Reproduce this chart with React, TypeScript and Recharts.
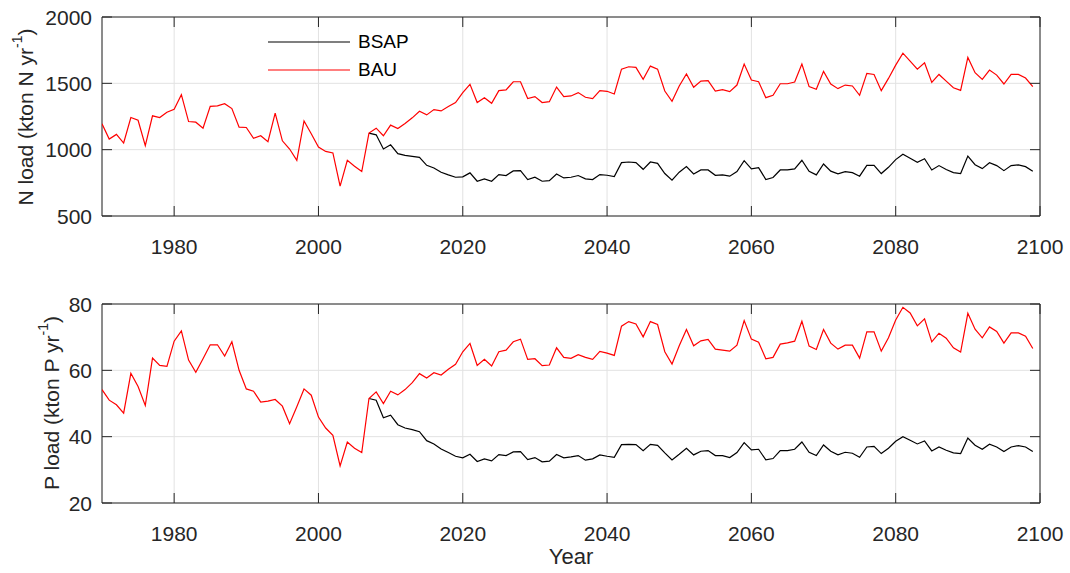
import React from 'react';
import { LineChart, Line, XAxis, YAxis, CartesianGrid, ReferenceArea } from 'recharts';

const years: number[] = Array.from({ length: 130 }, (_, i) => 1970 + i);

const nBAU: number[] = [
  1195, 1080, 1115, 1050, 1242, 1222, 1030, 1255, 1242, 1282,
  1305, 1415, 1212, 1207, 1162, 1327, 1330, 1347, 1310, 1170,
  1167, 1085, 1105, 1060, 1275, 1067, 1005, 920, 1217, 1120,
  1020, 987, 975, 725, 920, 875, 835, 1125, 1162, 1105,
  1185, 1160, 1197, 1240, 1290, 1262, 1302, 1292, 1325, 1355,
  1430, 1492, 1355, 1392, 1350, 1445, 1450, 1512, 1512, 1385,
  1400, 1355, 1362, 1472, 1400, 1405, 1430, 1395, 1385, 1445,
  1440, 1420, 1607, 1625, 1620, 1530, 1630, 1607, 1442, 1365,
  1480, 1570, 1470, 1517, 1520, 1442, 1452, 1437, 1487, 1645,
  1525, 1512, 1392, 1410, 1497, 1497, 1510, 1645, 1475, 1455,
  1590, 1495, 1460, 1487, 1480, 1410, 1575, 1567, 1445, 1537,
  1637, 1727, 1667, 1607, 1655, 1507, 1567, 1517, 1467, 1447,
  1695, 1580, 1530, 1600, 1562, 1495, 1567, 1567, 1540, 1475,
];

const nBSAP: (number | null)[] = [
  null, null, null, null, null, null, null, null, null, null,
  null, null, null, null, null, null, null, null, null, null,
  null, null, null, null, null, null, null, null, null, null,
  null, null, null, null, null, null, null, 1125, 1112, 1005,
  1037, 970, 957, 950, 942, 882, 862, 830, 810, 792,
  795, 825, 762, 780, 762, 812, 805, 840, 842, 775,
  792, 762, 767, 817, 787, 792, 805, 780, 775, 812,
  807, 797, 902, 907, 902, 852, 907, 897, 820, 770,
  830, 872, 817, 847, 847, 807, 810, 800, 835, 917,
  855, 865, 775, 790, 847, 847, 855, 920, 837, 810,
  892, 838, 818, 835, 827, 800, 882, 882, 820, 867,
  925, 965, 935, 905, 932, 847, 880, 850, 827, 820,
  952, 887, 857, 902, 880, 842, 880, 885, 872, 837,
];

const pBAU: number[] = [
  54.2, 51.0, 49.6, 47.1, 59.1, 55.1, 49.4, 63.7, 61.5, 61.2,
  68.8, 71.9, 63.1, 59.4, 63.5, 67.7, 67.7, 64.3, 68.6, 60.0,
  54.4, 53.7, 50.4, 50.7, 51.2, 49.2, 43.9, 49.0, 54.4, 52.5,
  45.9, 42.6, 40.4, 31.2, 38.4, 36.5, 35.2, 51.5, 53.5, 50.0,
  53.7, 52.6, 54.2, 56.3, 59.0, 57.7, 59.3, 58.6, 60.3, 61.8,
  65.6, 68.1, 61.5, 63.3, 61.3, 65.6, 66.1, 68.6, 69.4, 63.3,
  63.5, 61.4, 61.6, 66.8, 63.9, 63.6, 64.7, 63.9, 63.3, 65.7,
  65.2, 64.5, 73.3, 74.7, 74.0, 70.1, 74.7, 73.8, 65.6, 61.9,
  67.4, 72.3, 67.4, 68.9, 69.3, 66.4, 66.1, 65.8, 67.6, 75.0,
  69.4, 68.5, 63.5, 63.9, 67.9, 68.3, 68.8, 74.8, 67.3, 66.3,
  72.3, 68.2, 66.4, 67.6, 67.6, 63.7, 71.6, 71.6, 65.8, 69.8,
  75.2, 79.0, 77.3, 73.4, 75.5, 68.6, 71.2, 69.7, 66.8, 65.5,
  77.2, 72.4, 69.8, 73.1, 71.7, 68.2, 71.3, 71.3, 70.3, 66.6,
];

const pBSAP: (number | null)[] = [
  null, null, null, null, null, null, null, null, null, null,
  null, null, null, null, null, null, null, null, null, null,
  null, null, null, null, null, null, null, null, null, null,
  null, null, null, null, null, null, null, 51.5, 51.0, 45.7,
  46.5, 43.6, 42.6, 42.1, 41.5, 38.8, 37.8, 36.3, 35.2, 34.1,
  33.6, 34.7, 32.5, 33.3, 32.7, 34.6, 34.3, 35.4, 35.5, 33.1,
  33.7, 32.4, 32.6, 34.6, 33.6, 33.9, 34.3, 32.9, 33.3, 34.5,
  34.1, 33.8, 37.6, 37.7, 37.6, 35.8, 37.7, 37.4, 35.1, 33.0,
  34.7, 36.5, 34.5, 35.6, 35.8, 34.3, 34.3, 33.7, 35.2, 38.2,
  36.0, 36.2, 33.0, 33.4, 35.8, 35.8, 36.2, 38.4, 35.3, 34.3,
  37.5, 35.6, 34.5, 35.3, 35.0, 33.8, 36.9, 37.1, 34.9, 36.5,
  38.6, 40.0, 38.9, 37.8, 38.7, 35.7, 36.9, 35.9, 35.1, 34.9,
  39.6, 37.4, 36.2, 37.7, 36.9, 35.5, 36.9, 37.3, 36.9, 35.5,
];

const xTicks: number[] = [1980, 2000, 2020, 2040, 2060, 2080, 2100];
const nTicks: number[] = [500, 1000, 1500, 2000];
const pTicks: number[] = [20, 40, 60, 80];
const seriesNames: string[] = ['BSAP', 'BAU'];
const seriesColors: string[] = ['#000000', '#ff0000'];

const nData = years.map((year, i) => ({ year, BSAP: nBSAP[i], BAU: nBAU[i] }));
const pData = years.map((year, i) => ({ year, BSAP: pBSAP[i], BAU: pBAU[i] }));

const FONT = '"Liberation Sans", Arial, Helvetica, sans-serif';
const AX = '#262626';
const PL = 102;
const PR = 1040;
const TICKLEN = 10;

const XTick = (props: any) => {
  const { x, payload, top, bottom } = props;
  return (
    <g>
      <line x1={x} x2={x} y1={bottom} y2={bottom - TICKLEN} stroke={AX} strokeWidth={1} />
      <line x1={x} x2={x} y1={top} y2={top + TICKLEN} stroke={AX} strokeWidth={1} />
      <text x={x} y={bottom + 30} textAnchor="middle" dominantBaseline="central" fill={AX} fontSize={21} fontFamily={FONT}>
        {payload.value}
      </text>
    </g>
  );
};

const YTick = (props: any) => {
  const { y, payload } = props;
  return (
    <g>
      <line x1={PL} x2={PL + TICKLEN} y1={y} y2={y} stroke={AX} strokeWidth={1} />
      <line x1={PR} x2={PR - TICKLEN} y1={y} y2={y} stroke={AX} strokeWidth={1} />
      <text x={PL - 10} y={y} textAnchor="end" dominantBaseline="central" fill={AX} fontSize={21} fontFamily={FONT}>
        {payload.value}
      </text>
    </g>
  );
};

const YLabel = (props: any) => {
  const { cx, cy, element } = props;
  return (
    <text
      x={cx}
      y={cy}
      transform={`rotate(-90 ${cx} ${cy})`}
      textAnchor="middle"
      dominantBaseline="central"
      fill={AX}
      fontSize={21}
      fontFamily={FONT}
    >
      {element} load (kton {element} yr
      <tspan dy={-8} fontSize={14}>-1</tspan>
      <tspan dy={8}>)</tspan>
    </text>
  );
};

const XLabel = () => (
  <text x={(PL + PR) / 2} y={286} textAnchor="middle" dominantBaseline="central" fill={AX} fontSize={22} fontFamily={FONT}>
    Year
  </text>
);

const LegendBox = () => (
  <div style={{ position: 'absolute', left: 268, top: 28, fontFamily: FONT, fontSize: 19, color: '#000' }}>
    {seriesNames.map((name, i) => (
      <div key={name} style={{ display: 'flex', alignItems: 'center', height: 28 }}>
        <svg width={82} height={4} style={{ display: 'block' }}>
          <line x1={0} x2={82} y1={2} y2={2} stroke={seriesColors[i]} strokeWidth={1.2} />
        </svg>
        <span style={{ marginLeft: 8, lineHeight: '28px' }}>{name}</span>
      </div>
    ))}
  </div>
);

export default function App() {
  return (
    <div style={{ position: 'absolute', left: 0, top: 0, width: 1070, height: 573, background: '#fff' }}>
      <div style={{ position: 'absolute', left: 0, top: 0 }}>
        <LineChart width={1070} height={270} data={nData} margin={{ top: 17, right: 30, bottom: 14, left: 0 }}>
          <CartesianGrid stroke="#e2e2e2" strokeWidth={1} />
          <XAxis
            dataKey="year"
            type="number"
            domain={[1970, 2100]}
            ticks={xTicks}
            allowDataOverflow
            height={40}
            axisLine={false}
            tickLine={false}
            tickSize={0}
            tick={(p: any) => <XTick {...p} top={17} bottom={216} />}
          />
          <YAxis
            type="number"
            domain={[500, 2000]}
            ticks={nTicks}
            allowDataOverflow
            width={102}
            axisLine={false}
            tickLine={false}
            tickSize={0}
            tick={(p: any) => <YTick {...p} />}
            label={<YLabel cx={25} cy={117} element="N" />}
          />
          <ReferenceArea x1={1970} x2={2100} y1={500} y2={2000} fill="none" fillOpacity={0} stroke={AX} strokeWidth={1} ifOverflow="visible" />
          <Line type="linear" dataKey="BSAP" name={seriesNames[0]} stroke={seriesColors[0]} strokeWidth={1.2} dot={false} isAnimationActive={false} connectNulls={false} />
          <Line type="linear" dataKey="BAU" name={seriesNames[1]} stroke={seriesColors[1]} strokeWidth={1.2} dot={false} isAnimationActive={false} />
        </LineChart>
      </div>
      <LegendBox />
      <div style={{ position: 'absolute', left: 0, top: 270 }}>
        <LineChart width={1070} height={303} data={pData} margin={{ top: 34, right: 30, bottom: 30, left: 0 }}>
          <CartesianGrid stroke="#e2e2e2" strokeWidth={1} />
          <XAxis
            dataKey="year"
            type="number"
            domain={[1970, 2100]}
            ticks={xTicks}
            allowDataOverflow
            height={40}
            axisLine={false}
            tickLine={false}
            tickSize={0}
            tick={(p: any) => <XTick {...p} top={34} bottom={233} />}
            label={<XLabel />}
          />
          <YAxis
            type="number"
            domain={[20, 80]}
            ticks={pTicks}
            allowDataOverflow
            width={102}
            axisLine={false}
            tickLine={false}
            tickSize={0}
            tick={(p: any) => <YTick {...p} />}
            label={<YLabel cx={51} cy={133} element="P" />}
          />
          <ReferenceArea x1={1970} x2={2100} y1={20} y2={80} fill="none" fillOpacity={0} stroke={AX} strokeWidth={1} ifOverflow="visible" />
          <Line type="linear" dataKey="BSAP" name={seriesNames[0]} stroke={seriesColors[0]} strokeWidth={1.2} dot={false} isAnimationActive={false} connectNulls={false} />
          <Line type="linear" dataKey="BAU" name={seriesNames[1]} stroke={seriesColors[1]} strokeWidth={1.2} dot={false} isAnimationActive={false} />
        </LineChart>
      </div>
    </div>
  );
}
